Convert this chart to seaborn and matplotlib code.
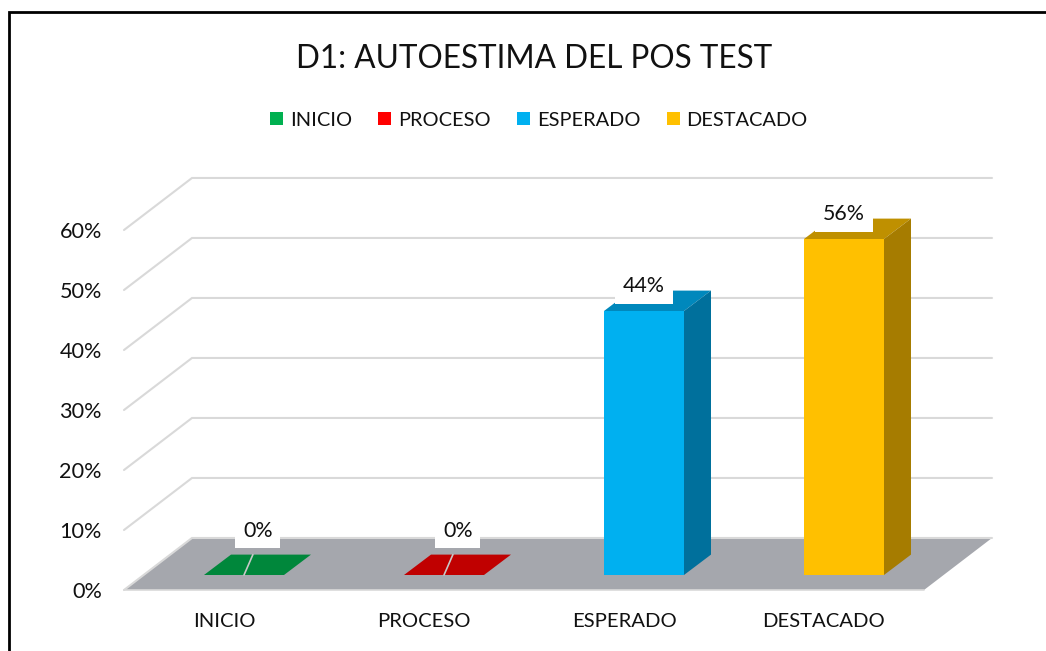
import pandas as pd
import matplotlib.pyplot as plt
import seaborn as sns
from matplotlib.patches import Polygon
from matplotlib.lines import Line2D
from matplotlib.transforms import ScaledTranslation

niveles = ['INICIO', 'PROCESO', 'ESPERADO', 'DESTACADO']
porcentajes = [0, 0, 44, 56]
y_ticks = [0, 10, 20, 30, 40, 50, 60]
colores = ['#00B050', '#FF0000', '#00B0F0', '#FFC000']
colores_top = ['#00873B', '#C00000', '#0088BC', '#BF9000']
colores_lado = ['#006B2E', '#900000', '#00709C', '#A67C00']

sns.set_style('white')
plt.rcParams['font.family'] = ['Lato', 'DejaVu Sans']

df = pd.DataFrame({'nivel': niveles, 'pct': porcentajes})

fig = plt.figure(figsize=(10.46, 6.51), dpi=100)
ax = fig.add_axes([124 / 1046, 61 / 651, 800 / 1046, 360 / 651])
sns.barplot(data=df, x='nivel', y='pct', hue='nivel', hue_order=niveles, palette=colores,
            saturation=1, width=0.4, dodge=False, ax=ax, zorder=5, linewidth=0, legend=True)
ax.set_xlim(-0.5, 3.5)
ax.set_ylim(0, 60)
ax.set_xlabel('')
ax.set_ylabel('')
sns.despine(ax=ax, left=True, bottom=True)

# fake 3d: depth of the walls and of the bars, in data units
wall_dx, wall_dy = 0.34, 8.67
bar_dx, bar_dy = 0.135, 3.4
shift_x, shift_y = 0.1, 2.5

# floor and back wall
ax.add_patch(Polygon([(-0.5, 0), (3.5, 0), (3.5 + wall_dx, wall_dy), (-0.5 + wall_dx, wall_dy)],
                     closed=True, fc='#A5A7AD', ec='none', clip_on=False, zorder=1))
for t in y_ticks:
    ax.plot([-0.5, -0.5 + wall_dx, 3.5 + wall_dx], [t, t + wall_dy, t + wall_dy],
            color='#D9D9D9', lw=1.5, clip_on=False, zorder=2, solid_joinstyle='miter')
ax.plot([-0.5, 3.5], [0, 0], color='#D9D9D9', lw=1.2, clip_on=False, zorder=2)

# move bars onto the floor, add top and side faces
bars = [c[0] for c in ax.containers]
for i, bar in enumerate(bars):
    bar.set_x(bar.get_x() + shift_x)
    bar.set_y(shift_y)
    x0, x1 = bar.get_x(), bar.get_x() + bar.get_width()
    y0, y1 = shift_y, shift_y + porcentajes[i]
    ax.add_patch(Polygon([(x0, y1), (x1, y1), (x1 + bar_dx, y1 + bar_dy), (x0 + bar_dx, y1 + bar_dy)],
                         closed=True, fc=colores_top[i], ec='none', clip_on=False, zorder=4))
    if porcentajes[i] > 0:
        ax.add_patch(Polygon([(x1, y0), (x1 + bar_dx, y0 + bar_dy), (x1 + bar_dx, y1 + bar_dy), (x1, y1)],
                             closed=True, fc=colores_lado[i], ec='none', clip_on=False, zorder=4))
    else:
        # wall gridline showing through the flat bars
        ax.plot([x0 + 0.2, x0 + 0.2 + bar_dx * 0.33], [y1, y1 + bar_dy], color='#C8C8C8', lw=1.2,
                clip_on=False, zorder=5)

    if porcentajes[i] > 0:
        off_x, off_y = 0, 18
    else:
        off_x, off_y = 10, 32
    ax.annotate(f'{porcentajes[i]}%', xy=(i + shift_x, y1), xytext=(off_x, off_y),
                textcoords='offset points', ha='center', va='center', fontsize=15.4, color='#111111',
                zorder=6, bbox=dict(fc='white', ec='none', pad=5.5))

ax.set_yticks(y_ticks)
ax.set_yticklabels([f'{t}%' for t in y_ticks], fontsize=15.6, color='#111111')
ax.set_xticks(range(len(niveles)))
ax.set_xticklabels(niveles, fontsize=14.6, color='#111111')
ax.tick_params(axis='y', length=0, pad=16)
ax.tick_params(axis='x', length=0, pad=16.7)
for lab in ax.get_yticklabels():
    lab.set_transform(lab.get_transform() + ScaledTranslation(0, -0.5 / 100, fig.dpi_scale_trans))

# legend on top, centred like the original
handles, labels = ax.get_legend_handles_labels()
ax.get_legend().remove()
fig.legend(handles, labels, loc='center', bbox_to_anchor=(539 / 1046, 1 - 120 / 651), ncols=4,
           frameon=False, fontsize=14.4, handlelength=0.65, handleheight=0.65, handletextpad=0.35,
           columnspacing=1.3, labelcolor='#111111')

fig.text(534 / 1046, 1 - 59 / 651, 'D1: AUTOESTIMA DEL POS TEST', ha='center', va='center',
         fontsize=22.7, color='#111111')

# outer frame
fig.add_artist(Line2D([8.5 / 1046, 8.5 / 1046, 1], [0, 1 - 11.5 / 651, 1 - 11.5 / 651],
                      color='black', lw=2, solid_joinstyle='miter'))

fig.savefig('out.png', dpi=100)
